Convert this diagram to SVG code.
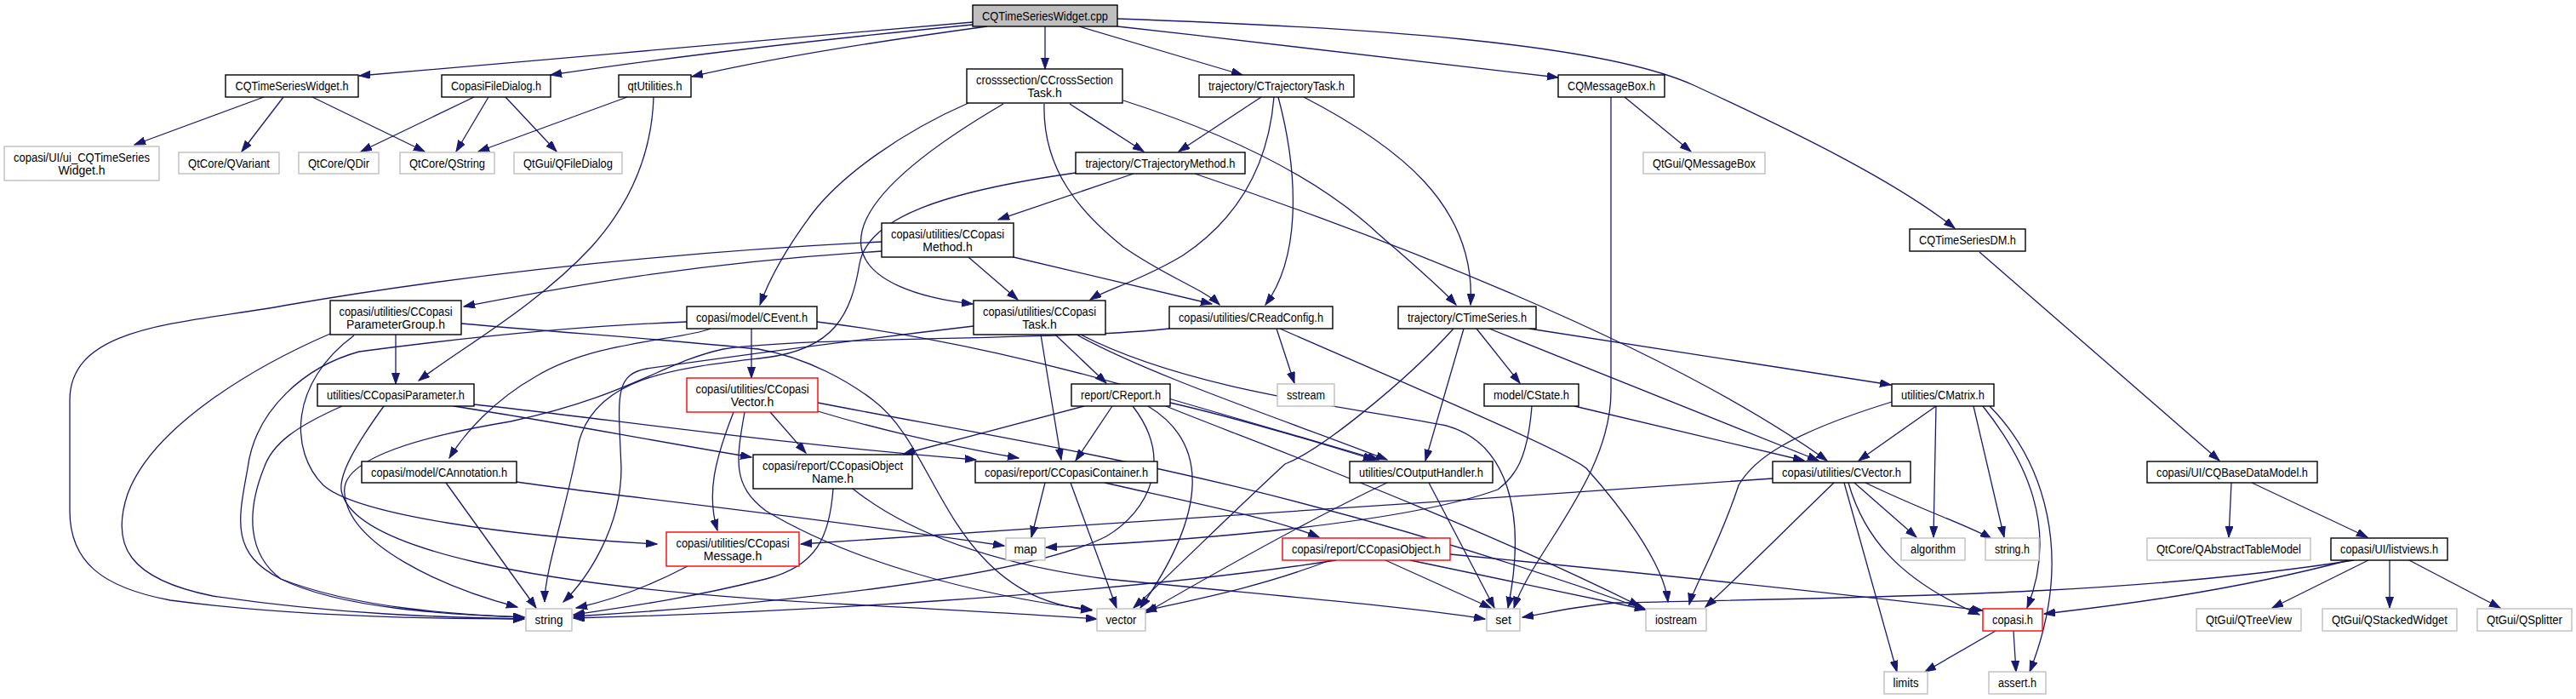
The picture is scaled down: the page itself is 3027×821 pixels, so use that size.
<svg xmlns="http://www.w3.org/2000/svg" width="3027" height="821" viewBox="0 0 3027 821">
<style>
.n rect{fill:#fff;stroke:#000;stroke-width:1.4}
.x rect{fill:#fff;stroke:#bfbfbf;stroke-width:1.4}
.r rect{fill:#fff;stroke:#ff0000;stroke-width:1.4}
.root rect{fill:#bfbfbf;stroke:#000;stroke-width:1.4}
text{font-family:"Liberation Sans",Arial,sans-serif;font-size:14px;text-anchor:middle;fill:#000}
.e path{fill:none;stroke:#191970;stroke-width:1.3;marker-end:url(#a)}
</style>
<defs>
<marker id="a" markerWidth="14" markerHeight="10" refX="13" refY="4.5" orient="auto" markerUnits="userSpaceOnUse"><path d="M0,0 L13,4.5 L0,9 z" fill="#191970" stroke="#191970" stroke-width="1"/></marker>
</defs>
<rect width="3027" height="821" fill="#fff"/>
<g class="e" id="edges">
<path d="M1143,26 C950,42 650,70 422,89"/>
<path d="M1143,29 C1000,43 800,65 647,88"/>
<path d="M1160,31 C1050,46 920,65 813,90"/>
<path d="M1228,31 L1228,81"/>
<path d="M1268,31 L1460,88"/>
<path d="M1313,31 C1500,52 1700,75 1831,91"/>
<path d="M1313,22 C1600,32 1880,50 1990,100 C2120,160 2230,215 2297,268"/>
<path d="M310,114 L158,170"/>
<path d="M333,114 L284,178"/>
<path d="M367,114 L499,178"/>
<path d="M557,114 L424,178"/>
<path d="M574,114 L536,178"/>
<path d="M594,114 L654,178"/>
<path d="M737,114 L562,178"/>
<path d="M768,114 C766,180 740,240 695,290 C630,360 540,410 492,447"/>
<path d="M1257,122 L1344,178"/>
<path d="M1138,121 C1060,155 990,205 955,250 C925,290 905,325 893,358"/>
<path d="M1179,122 C1080,180 1005,240 1012,290 C1018,330 1080,350 1143,357"/>
<path d="M1227,122 C1225,200 1270,250 1320,290 C1370,325 1415,340 1433,358"/>
<path d="M1320,118 C1420,150 1540,200 1620,275 C1660,310 1690,335 1711,358"/>
<path d="M1482,114 L1385,178"/>
<path d="M1497,114 C1490,200 1450,260 1390,300 C1340,330 1300,340 1281,352"/>
<path d="M1502,114 C1525,200 1530,300 1487,358"/>
<path d="M1532,114 C1640,170 1735,240 1728,358"/>
<path d="M1909,114 L1987,178"/>
<path d="M1893,114 L1893,460 C1893,560 1800,650 1779,714"/>
<path d="M2326,296 L2608,541"/>
<path d="M1332,204 L1173,258"/>
<path d="M1404,204 C1600,270 1950,400 2147,541"/>
<path d="M1264,203 C1110,225 1020,255 1010,310 C1000,370 980,410 900,420 C800,432 700,440 680,520 C665,600 640,670 640,707"/>
<path d="M1036,295 C800,310 650,340 545,360"/>
<path d="M1138,302 L1196,352"/>
<path d="M1191,302 L1424,357"/>
<path d="M1036,284 C800,296 560,320 339,358 C220,380 82,380 82,470 L82,600 C82,660 120,690 200,705 C350,725 520,727 616,727"/>
<path d="M465,393 L465,451"/>
<path d="M388,392 C300,430 180,500 150,580 C130,640 150,680 250,700 C400,722 520,725 616,727"/>
<path d="M416,394 C340,450 340,530 380,570 C420,605 600,630 772,639"/>
<path d="M542,380 C650,390 800,400 891,410 C950,420 1000,450 1026,470 C1080,510 1100,600 1160,660 C1200,700 1240,712 1283,717"/>
<path d="M402,477 C350,500 320,520 310,550 C290,600 290,650 330,680 C400,715 530,722 616,725"/>
<path d="M533,477 C650,495 780,520 883,537"/>
<path d="M557,475 C700,490 900,520 1147,540"/>
<path d="M451,477 C420,520 395,560 402,580 C420,640 600,690 1000,710 C1150,718 1220,722 1289,727"/>
<path d="M883,386 L883,444"/>
<path d="M835,386 C800,400 700,400 630,442 C580,470 545,510 528,538"/>
<path d="M807,378 C700,382 580,392 422,413 C360,430 300,480 291,550 C280,610 270,650 330,680 C420,715 540,722 616,725"/>
<path d="M960,378 C1100,395 1250,430 1380,470 C1450,490 1550,520 1620,540"/>
<path d="M1144,383 C1000,400 850,420 760,433 C720,440 727,470 730,550 C730,620 690,680 662,707"/>
<path d="M1223,393 L1247,540"/>
<path d="M1240,393 L1300,450"/>
<path d="M1265,393 C1350,440 1500,490 1630,540"/>
<path d="M1270,393 C1400,460 1600,480 1700,500 C1770,520 1795,600 1772,714"/>
<path d="M1374,386 C1250,400 950,395 850,410 C780,425 740,465 600,495 C450,520 400,550 405,580 C410,640 520,690 608,713"/>
<path d="M1500,386 L1521,450"/>
<path d="M1504,386 C1650,450 1840,530 1864,550 C1900,590 1955,660 1960,707"/>
<path d="M1274,477 L1062,533"/>
<path d="M1307,477 L1264,541"/>
<path d="M1331,477 C1380,540 1350,600 1300,630 C1200,680 900,710 674,724"/>
<path d="M1349,477 C1420,520 1420,600 1340,714"/>
<path d="M1375,473 C1450,490 1550,520 1615,540"/>
<path d="M1370,477 C1450,510 1700,600 1927,712"/>
<path d="M862,484 C840,540 830,580 843,623"/>
<path d="M875,484 C865,540 860,570 900,600 C1000,660 1150,700 1283,716"/>
<path d="M905,484 L947,532"/>
<path d="M961,483 C1050,510 1150,530 1197,538"/>
<path d="M961,473 C1200,520 1500,560 1934,716"/>
<path d="M979,574 C975,630 960,665 900,680 C800,705 720,715 674,722"/>
<path d="M1002,574 C1060,620 1150,660 1300,680 C1500,700 1650,712 1745,727"/>
<path d="M1228,567 L1212,631"/>
<path d="M1258,567 L1312,714"/>
<path d="M1298,567 C1400,590 1500,610 1550,631"/>
<path d="M524,567 L630,714"/>
<path d="M607,566 C700,580 900,600 1180,641"/>
<path d="M808,665 C760,690 720,705 677,714"/>
<path d="M1570,658 C1300,700 900,720 674,726"/>
<path d="M1563,658 C1480,690 1400,705 1346,717"/>
<path d="M1628,658 L1752,714"/>
<path d="M1657,658 L1934,716"/>
<path d="M1704,651 C1900,670 2100,690 2330,717"/>
<path d="M1679,567 L1756,714"/>
<path d="M1630,567 C1560,600 1450,660 1346,720"/>
<path d="M1800,477 C1795,540 1780,560 1760,575 C1650,615 1400,635 1229,643"/>
<path d="M1850,477 L2120,541"/>
<path d="M1708,386 C1650,450 1550,530 1510,545 C1450,600 1380,670 1332,714"/>
<path d="M1720,386 L1675,541"/>
<path d="M1735,386 L1786,450"/>
<path d="M1750,386 L2137,541"/>
<path d="M1797,386 L2222,452"/>
<path d="M2275,477 L2184,541"/>
<path d="M2223,472 C2100,510 2060,540 2043,570 C2020,640 1990,690 1985,710"/>
<path d="M2275,477 L2272,631"/>
<path d="M2319,477 L2355,631"/>
<path d="M2330,477 C2380,540 2420,620 2382,714"/>
<path d="M2338,477 C2400,540 2440,650 2385,789"/>
<path d="M2179,567 L2252,631"/>
<path d="M2192,567 C2260,600 2320,620 2340,633"/>
<path d="M2167,567 C2190,650 2210,720 2229,789"/>
<path d="M2172,567 C2190,630 2230,680 2326,722"/>
<path d="M2155,567 C2100,620 2040,680 2004,713"/>
<path d="M2083,562 C1700,590 1200,620 941,639"/>
<path d="M2766,658 C2500,700 2200,701 1900,708 C1850,712 1820,720 1789,725"/>
<path d="M2760,658 C2600,700 2450,715 2402,721"/>
<path d="M2783,658 L2670,714"/>
<path d="M2808,658 L2808,714"/>
<path d="M2831,658 L2938,714"/>
<path d="M2622,567 L2619,631"/>
<path d="M2646,567 L2782,631"/>
<path d="M2345,741 L2262,789"/>
<path d="M2366,741 L2369,789"/>
</g>
<g id="n_root" class="root"><rect x="1143" y="6" width="170" height="25"/><text x="1228" y="23.5" textLength="148" lengthAdjust="spacingAndGlyphs">CQTimeSeriesWidget.cpp</text></g>
<g id="n_cqtsw" class="n"><rect x="265" y="88" width="156" height="26"/><text x="343" y="106" textLength="133" lengthAdjust="spacingAndGlyphs">CQTimeSeriesWidget.h</text></g>
<g id="n_cfd" class="n"><rect x="519" y="88" width="128" height="26"/><text x="583" y="106" textLength="106" lengthAdjust="spacingAndGlyphs">CopasiFileDialog.h</text></g>
<g id="n_qtu" class="n"><rect x="727" y="88" width="85" height="26"/><text x="769.5" y="106" textLength="64" lengthAdjust="spacingAndGlyphs">qtUtilities.h</text></g>
<g id="n_ccst" class="n"><rect x="1136" y="81" width="183" height="40"/><text x="1227.5" y="98.5" textLength="161" lengthAdjust="spacingAndGlyphs">crosssection/CCrossSection</text><text x="1227.5" y="113.5">Task.h</text></g>
<g id="n_ctt" class="n"><rect x="1409" y="88" width="182" height="26"/><text x="1500" y="106" textLength="160" lengthAdjust="spacingAndGlyphs">trajectory/CTrajectoryTask.h</text></g>
<g id="n_cqmb" class="n"><rect x="1831" y="88" width="125" height="26"/><text x="1893.5" y="106" textLength="103" lengthAdjust="spacingAndGlyphs">CQMessageBox.h</text></g>
<g id="n_ui" class="x"><rect x="5" y="172" width="182" height="40"/><text x="96" y="189.5" textLength="160" lengthAdjust="spacingAndGlyphs">copasi/UI/ui_CQTimeSeries</text><text x="96" y="204.5">Widget.h</text></g>
<g id="n_qvariant" class="x"><rect x="210" y="179" width="118" height="25"/><text x="269" y="196.5" textLength="96" lengthAdjust="spacingAndGlyphs">QtCore/QVariant</text></g>
<g id="n_qdir" class="x"><rect x="351" y="179" width="94" height="25"/><text x="398" y="196.5" textLength="72" lengthAdjust="spacingAndGlyphs">QtCore/QDir</text></g>
<g id="n_qstring" class="x"><rect x="470" y="179" width="111" height="25"/><text x="525.5" y="196.5" textLength="89" lengthAdjust="spacingAndGlyphs">QtCore/QString</text></g>
<g id="n_qfd" class="x"><rect x="604" y="179" width="127" height="25"/><text x="667.5" y="196.5" textLength="105" lengthAdjust="spacingAndGlyphs">QtGui/QFileDialog</text></g>
<g id="n_ctm" class="n"><rect x="1264" y="179" width="199" height="25"/><text x="1363.5" y="196.5" textLength="176" lengthAdjust="spacingAndGlyphs">trajectory/CTrajectoryMethod.h</text></g>
<g id="n_qmb" class="x"><rect x="1931" y="179" width="143" height="25"/><text x="2002.5" y="196.5" textLength="121" lengthAdjust="spacingAndGlyphs">QtGui/QMessageBox</text></g>
<g id="n_ccm" class="n"><rect x="1036" y="262" width="155" height="40"/><text x="1113.5" y="279.5" textLength="133" lengthAdjust="spacingAndGlyphs">copasi/utilities/CCopasi</text><text x="1113.5" y="294.5">Method.h</text></g>
<g id="n_cqtsdm" class="n"><rect x="2244" y="269" width="136" height="26"/><text x="2312" y="287" textLength="114" lengthAdjust="spacingAndGlyphs">CQTimeSeriesDM.h</text></g>
<g id="n_ccpg" class="n"><rect x="388" y="353" width="154" height="40"/><text x="465" y="370.5" textLength="133" lengthAdjust="spacingAndGlyphs">copasi/utilities/CCopasi</text><text x="465" y="385.5">ParameterGroup.h</text></g>
<g id="n_cevent" class="n"><rect x="807" y="360" width="153" height="26"/><text x="883.5" y="378" textLength="131" lengthAdjust="spacingAndGlyphs">copasi/model/CEvent.h</text></g>
<g id="n_cct" class="n"><rect x="1144" y="353" width="155" height="40"/><text x="1221.5" y="370.5" textLength="133" lengthAdjust="spacingAndGlyphs">copasi/utilities/CCopasi</text><text x="1221.5" y="385.5">Task.h</text></g>
<g id="n_crc" class="n"><rect x="1374" y="360" width="192" height="26"/><text x="1470" y="378" textLength="170" lengthAdjust="spacingAndGlyphs">copasi/utilities/CReadConfig.h</text></g>
<g id="n_cts" class="n"><rect x="1643" y="360" width="162" height="26"/><text x="1724" y="378" textLength="140" lengthAdjust="spacingAndGlyphs">trajectory/CTimeSeries.h</text></g>
<g id="n_ccp" class="n"><rect x="373" y="451" width="184" height="26"/><text x="465" y="469" textLength="162" lengthAdjust="spacingAndGlyphs">utilities/CCopasiParameter.h</text></g>
<g id="n_ccv" class="r"><rect x="807" y="444" width="154" height="40"/><text x="884" y="461.5" textLength="133" lengthAdjust="spacingAndGlyphs">copasi/utilities/CCopasi</text><text x="884" y="476.5">Vector.h</text></g>
<g id="n_creport" class="n"><rect x="1259" y="451" width="116" height="26"/><text x="1317" y="469" textLength="94" lengthAdjust="spacingAndGlyphs">report/CReport.h</text></g>
<g id="n_sstream" class="x"><rect x="1501" y="451" width="67" height="26"/><text x="1534.5" y="469" textLength="45" lengthAdjust="spacingAndGlyphs">sstream</text></g>
<g id="n_cstate" class="n"><rect x="1744" y="451" width="111" height="26"/><text x="1799.5" y="469" textLength="89" lengthAdjust="spacingAndGlyphs">model/CState.h</text></g>
<g id="n_cmatrix" class="n"><rect x="2223" y="451" width="120" height="26"/><text x="2283" y="469" textLength="98" lengthAdjust="spacingAndGlyphs">utilities/CMatrix.h</text></g>
<g id="n_cann" class="n"><rect x="425" y="542" width="182" height="25"/><text x="516" y="559.5" textLength="160" lengthAdjust="spacingAndGlyphs">copasi/model/CAnnotation.h</text></g>
<g id="n_ccon" class="n"><rect x="885" y="534" width="187" height="40"/><text x="978.5" y="551.5" textLength="165" lengthAdjust="spacingAndGlyphs">copasi/report/CCopasiObject</text><text x="978.5" y="566.5">Name.h</text></g>
<g id="n_ccc" class="n"><rect x="1146" y="542" width="214" height="25"/><text x="1253" y="559.5" textLength="192" lengthAdjust="spacingAndGlyphs">copasi/report/CCopasiContainer.h</text></g>
<g id="n_coh" class="n"><rect x="1586" y="542" width="168" height="25"/><text x="1670" y="559.5" textLength="146" lengthAdjust="spacingAndGlyphs">utilities/COutputHandler.h</text></g>
<g id="n_cvector" class="n"><rect x="2083" y="542" width="162" height="25"/><text x="2164" y="559.5" textLength="140" lengthAdjust="spacingAndGlyphs">copasi/utilities/CVector.h</text></g>
<g id="n_cqbdm" class="n"><rect x="2523" y="542" width="200" height="25"/><text x="2623" y="559.5" textLength="178" lengthAdjust="spacingAndGlyphs">copasi/UI/CQBaseDataModel.h</text></g>
<g id="n_ccmsg" class="r"><rect x="783" y="625" width="156" height="40"/><text x="861" y="642.5" textLength="133" lengthAdjust="spacingAndGlyphs">copasi/utilities/CCopasi</text><text x="861" y="657.5">Message.h</text></g>
<g id="n_map" class="x"><rect x="1182" y="632" width="46" height="26"/><text x="1205" y="650">map</text></g>
<g id="n_cco" class="r"><rect x="1507" y="632" width="197" height="26"/><text x="1605.5" y="650" textLength="175" lengthAdjust="spacingAndGlyphs">copasi/report/CCopasiObject.h</text></g>
<g id="n_algorithm" class="x"><rect x="2234" y="632" width="75" height="26"/><text x="2271.5" y="650" textLength="53" lengthAdjust="spacingAndGlyphs">algorithm</text></g>
<g id="n_stringh" class="x"><rect x="2333" y="632" width="63" height="26"/><text x="2364.5" y="650" textLength="41" lengthAdjust="spacingAndGlyphs">string.h</text></g>
<g id="n_qatm" class="x"><rect x="2523" y="632" width="192" height="26"/><text x="2619" y="650" textLength="170" lengthAdjust="spacingAndGlyphs">QtCore/QAbstractTableModel</text></g>
<g id="n_listviews" class="n"><rect x="2739" y="632" width="137" height="26"/><text x="2807.5" y="650" textLength="115" lengthAdjust="spacingAndGlyphs">copasi/UI/listviews.h</text></g>
<g id="n_string" class="x"><rect x="618" y="715" width="54" height="26"/><text x="645" y="733" textLength="33" lengthAdjust="spacingAndGlyphs">string</text></g>
<g id="n_vector" class="x"><rect x="1289" y="715" width="57" height="26"/><text x="1317.5" y="733" textLength="36" lengthAdjust="spacingAndGlyphs">vector</text></g>
<g id="n_set" class="x"><rect x="1747" y="715" width="39" height="26"/><text x="1766.5" y="733">set</text></g>
<g id="n_iostream" class="x"><rect x="1934" y="715" width="71" height="26"/><text x="1969.5" y="733" textLength="49" lengthAdjust="spacingAndGlyphs">iostream</text></g>
<g id="n_copasih" class="r"><rect x="2330" y="715" width="70" height="26"/><text x="2365" y="733" textLength="48" lengthAdjust="spacingAndGlyphs">copasi.h</text></g>
<g id="n_qtv" class="x"><rect x="2581" y="715" width="123" height="26"/><text x="2642.5" y="733" textLength="101" lengthAdjust="spacingAndGlyphs">QtGui/QTreeView</text></g>
<g id="n_qsw" class="x"><rect x="2729" y="715" width="158" height="26"/><text x="2808" y="733" textLength="136" lengthAdjust="spacingAndGlyphs">QtGui/QStackedWidget</text></g>
<g id="n_qsplit" class="x"><rect x="2911" y="715" width="111" height="26"/><text x="2966.5" y="733" textLength="89" lengthAdjust="spacingAndGlyphs">QtGui/QSplitter</text></g>
<g id="n_limits" class="x"><rect x="2214" y="789" width="51" height="26"/><text x="2239.5" y="807" textLength="30" lengthAdjust="spacingAndGlyphs">limits</text></g>
<g id="n_asserth" class="x"><rect x="2337" y="789" width="67" height="26"/><text x="2370.5" y="807" textLength="45" lengthAdjust="spacingAndGlyphs">assert.h</text></g>
</svg>
